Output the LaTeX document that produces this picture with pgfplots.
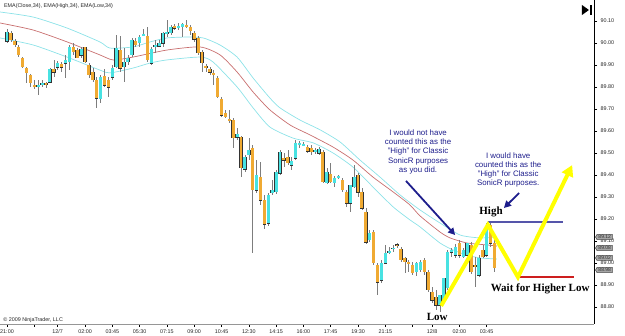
\documentclass[border=0pt]{standalone}
\usepackage{fontspec}
\setmainfont{Liberation Sans}
\newfontfamily\handfont{Liberation Serif}
\usepackage{pgfplots}
\pgfplotsset{compat=1.18}
\usepackage{pgfplotstable}
\usetikzlibrary{arrows.meta,shapes.symbols}
\definecolor{upc}{RGB}{72,226,226}
\definecolor{dnc}{RGB}{240,170,50}
\definecolor{wickc}{RGB}{125,125,125}
\definecolor{emac}{RGB}{140,226,232}
\definecolor{emar}{RGB}{200,110,110}
\definecolor{navy}{RGB}{30,30,140}
\definecolor{hline}{RGB}{85,85,170}
\definecolor{rline}{RGB}{205,30,30}
\definecolor{yel}{RGB}{255,255,0}
\definecolor{axgray}{RGB}{150,150,150}

\pgfplotstableread{
i o h l c
0 90.009 90.064 90.000 90.050
1 90.046 90.055 90.005 90.014
2 90.009 90.018 89.982 89.991
3 89.982 89.991 89.936 89.946
4 89.932 89.936 89.886 89.891
5 89.886 89.891 89.818 89.864
6 89.855 89.859 89.800 89.818
7 89.809 89.832 89.791 89.800
8 89.805 89.832 89.764 89.809
9 89.814 89.832 89.800 89.818
10 89.818 89.823 89.795 89.809
11 89.823 89.886 89.818 89.882
12 89.882 89.923 89.845 89.868
13 89.891 89.918 89.877 89.909
14 89.905 89.914 89.868 89.891
15 89.909 89.946 89.841 89.923
16 89.914 89.991 89.877 89.982
17 89.982 90.000 89.946 89.959
18 89.968 89.977 89.932 89.936
19 89.946 89.982 89.932 89.973
20 89.982 89.982 89.909 89.914
21 89.900 89.909 89.841 89.855
22 89.868 89.886 89.823 89.832
23 89.832 89.845 89.705 89.750
24 89.745 89.855 89.727 89.845
25 89.850 89.882 89.800 89.809
26 89.832 89.845 89.755 89.800
27 89.845 89.900 89.832 89.886
28 89.891 90.036 89.886 89.977
29 89.968 90.036 89.868 89.886
30 89.891 89.977 89.823 89.914
31 89.914 89.946 89.900 89.932
32 89.946 90.023 89.936 90.014
33 90.009 90.023 89.982 89.991
34 90.000 90.036 89.982 90.027
35 90.036 90.064 90.032 90.041
36 90.032 90.073 89.914 89.923
37 89.909 89.982 89.900 89.973
38 89.982 90.014 89.955 89.991
39 89.986 90.014 89.982 90.000
40 90.000 90.050 89.982 90.046
41 90.046 90.105 90.027 90.050
42 90.046 90.082 90.036 90.073
43 90.077 90.086 90.059 90.068
44 90.073 90.091 90.059 90.077
45 90.073 90.091 90.027 90.086
46 90.082 90.105 90.068 90.077
47 90.073 90.082 90.036 90.055
48 90.046 90.055 90.005 90.018
49 90.023 90.032 89.946 89.955
50 89.959 89.968 89.868 89.909
51 89.895 89.905 89.868 89.891
52 89.882 89.891 89.855 89.868
53 89.864 89.877 89.809 89.855
54 89.841 89.850 89.750 89.755
55 89.745 89.755 89.664 89.673
56 89.682 89.695 89.659 89.664
57 89.655 89.695 89.636 89.645
58 89.650 89.659 89.523 89.568
59 89.573 89.614 89.559 89.586
60 89.573 89.577 89.391 89.432
61 89.427 89.491 89.414 89.482
62 89.491 89.568 89.468 89.514
63 89.523 89.536 89.045 89.332
64 89.332 89.468 89.318 89.400
65 89.391 89.459 89.264 89.286
66 89.286 89.309 89.155 89.177
67 89.182 89.318 89.168 89.309
68 89.318 89.377 89.309 89.332
69 89.323 89.423 89.314 89.414
70 89.409 89.514 89.400 89.505
71 89.477 89.500 89.436 89.468
72 89.482 89.514 89.445 89.455
73 89.445 89.482 89.423 89.464
74 89.477 89.559 89.468 89.545
75 89.541 89.555 89.523 89.545
76 89.536 89.550 89.532 89.541
77 89.527 89.536 89.500 89.509
78 89.523 89.536 89.491 89.505
79 89.509 89.523 89.495 89.514
80 89.500 89.527 89.491 89.518
81 89.505 89.514 89.364 89.368
82 89.364 89.432 89.359 89.414
83 89.405 89.455 89.364 89.368
84 89.364 89.395 89.345 89.386
85 89.391 89.400 89.382 89.395
86 89.377 89.386 89.323 89.332
87 89.323 89.332 89.255 89.273
88 89.273 89.355 89.232 89.355
89 89.345 89.445 89.341 89.391
90 89.400 89.409 89.300 89.323
91 89.323 89.341 89.241 89.250
92 89.232 89.250 89.086 89.095
93 89.105 89.150 89.095 89.136
94 89.141 89.150 88.991 89.000
95 88.991 89.000 88.855 88.914
96 88.923 89.014 88.909 89.000
97 89.000 89.082 88.995 89.045
98 89.050 89.073 89.041 89.055
99 89.064 89.082 89.050 89.068
100 89.082 89.091 89.068 89.077
101 89.064 89.073 89.005 89.014
102 89.023 89.027 88.955 89.005
103 89.005 89.014 88.959 89.000
104 88.991 89.005 88.946 88.955
105 88.959 89.005 88.941 89.000
106 88.968 89.014 88.959 89.005
107 89.014 89.023 88.946 88.959
108 88.959 88.968 88.868 88.877
109 88.868 88.891 88.818 88.832
110 88.845 88.877 88.786 88.809
111 88.809 88.855 88.777 88.855
112 88.832 88.932 88.818 88.932
113 88.886 89.059 88.877 89.050
114 89.050 89.068 89.027 89.059
115 89.036 89.086 89.023 89.073
116 89.091 89.105 89.023 89.036
117 89.027 89.068 89.023 89.059
118 89.036 89.091 89.032 89.091
119 89.082 89.095 88.950 88.959
120 88.991 89.027 88.891 88.986
121 88.946 89.036 88.936 89.023
122 89.059 89.082 89.023 89.027
123 89.036 89.182 89.027 89.159
124 89.173 89.186 89.073 89.091
125 89.091 89.105 88.959 88.977
}\candles

\pgfplotstableread{
x y
-1.8 90.141
6.7 90.118
15.4 90.068
23.8 90.005
26.4 89.977
32.3 89.982
36.7 90.005
41 90.023
46.2 90.027
50.3 90.023
54.6 89.991
59 89.936
63.1 89.841
67.4 89.750
70 89.705
75.1 89.650
80.3 89.605
85.4 89.550
90.5 89.468
95.6 89.391
100.8 89.309
105.9 89.241
111 89.182
116.2 89.127
121.3 89.114
125.6 89.118
}\emahigh

\pgfplotstableread{
x y
-1.8 90.091
6.7 90.059
15.4 90.005
23.8 89.946
27.2 89.923
32.3 89.936
41 89.968
49.5 89.982
54.6 89.946
59 89.868
63.1 89.777
67.4 89.696
72.6 89.627
77.7 89.582
83.6 89.527
88.7 89.468
93.8 89.391
99 89.323
103.3 89.264
105.9 89.214
111 89.141
113.6 89.114
117.9 89.091
123.1 89.082
125.6 89.077
}\emaclose

\pgfplotstableread{
x y
-1.8 90.023
6.7 89.991
15.4 89.936
23.8 89.877
26.4 89.864
32.3 89.886
36.7 89.909
41 89.923
49.5 89.936
52.8 89.914
59 89.800
63.1 89.705
67.4 89.618
73.3 89.568
78.5 89.546
83.6 89.500
88.7 89.436
93.8 89.346
99 89.255
103.3 89.196
105.9 89.164
111 89.091
114.4 89.059
117.9 89.036
121.3 89.023
125.6 89.018
}\emalow

\begin{document}
\begin{tikzpicture}
\begin{axis}[
  at={(0pt,0pt)}, anchor=south west,
  width=594pt, height=324pt, scale only axis,
  xmin=-1.795, xmax=150.5, ymin=88.7227, ymax=90.1955,
  axis x line*=bottom, axis y line*=right,
  x axis line style={draw=axgray, line width=0.8pt},
  y axis line style={draw=black, line width=0.6pt},
  xtick={0,7,13,20,27,34,41,48,55,62,69,76,83,90,97,104,109,116,123},
  xticklabels={21:00,,12/7,02:00,03:45,05:30,07:15,09:00,10:45,12:30,14:15,16:00,17:45,19:30,21:15,,12/8,02:00,03:45},
  ytick={88.8,88.9,89.0,89.1,89.2,89.3,89.4,89.5,89.6,89.7,89.8,89.9,90.0,90.1},
  tick align=outside, major tick length=3pt,
  tick style={black, line width=0.5pt},
  ticklabel style={font=\fontsize{5.4}{6}\selectfont, text=black!85},
  xticklabel style={yshift=1pt},
  yticklabel style={/pgf/number format/.cd, fixed, fixed zerofill, precision=2},
  /pgf/number format/assume math mode=true,
  clip=false,
  candle/.style={draw=none, no markers, forget plot, error bars/.cd, y dir=both, y explicit, error mark=none},
]
% EMA lines
\addplot[emac, line width=0.7pt, smooth, tension=0.4, no markers] table {\emahigh};
\addplot[emar, line width=0.7pt, smooth, tension=0.4, no markers] table {\emaclose};
\addplot[emac, line width=0.7pt, smooth, tension=0.4, no markers] table {\emalow};
% wicks
\addplot[candle, error bar style={draw=wickc, line width=0.6pt}]
  table[x=i, y expr=(\thisrow{h}+\thisrow{l})/2, y error expr=(\thisrow{h}-\thisrow{l})/2] {\candles};
% body outlines
\addplot[candle, error bar style={draw=black!80, line width=3.5pt}]
  table[x=i, y expr=(\thisrow{o}+\thisrow{c})/2, y error expr=abs(\thisrow{c}-\thisrow{o})/2+0.0016] {\candles};
% up bodies
\addplot[candle, error bar style={draw=upc, line width=2.9pt}]
  table[x=i, y expr={\thisrow{c}>\thisrow{o} ? (\thisrow{o}+\thisrow{c})/2 : nan}, y error expr=abs(\thisrow{c}-\thisrow{o})/2] {\candles};
% down bodies
\addplot[candle, error bar style={draw=dnc, line width=2.9pt}]
  table[x=i, y expr={\thisrow{c}<\thisrow{o} ? (\thisrow{o}+\thisrow{c})/2 : nan}, y error expr=abs(\thisrow{c}-\thisrow{o})/2] {\candles};

% annotations
\draw[hline, line width=1.6pt] (axis cs:123.3,89.186) -- (axis cs:142.6,89.186);
\draw[rline, line width=1.2pt] (axis cs:130.8,88.936) -- (axis cs:145.4,88.936);
\draw[yel, line width=4pt, line join=miter, -{Triangle[length=11pt,width=12pt]}]
  (axis cs:111.3,88.805) -- (axis cs:123.3,89.173) -- (axis cs:131,88.936) -- (axis cs:144.9,89.445);
\draw[navy, line width=1.8pt, -{Triangle[length=7pt,width=7pt]}] (axis cs:102.3,89.373) -- (axis cs:114.9,89.127);
\draw[navy, line width=1.8pt, -{Triangle[length=7pt,width=7pt]}] (axis cs:131.3,89.318) -- (axis cs:127.4,89.250);

\node[navy, align=center, font=\fontsize{7.9}{9.2}\selectfont, inner sep=0pt] at (axis cs:105.4,89.505)
  {I would not have\\counted this as the\\"High" for Classic\\SonicR purposes\\as you did.};
\node[navy, align=center, font=\fontsize{7.9}{9.2}\selectfont, inner sep=0pt] at (axis cs:128.5,89.423)
  {I would have\\counted this as the\\"High" for Classic\\SonicR purposes.};
\node[font=\handfont\bfseries\fontsize{11}{12}\selectfont, inner sep=0pt] at (axis cs:124.1,89.232) {High};
\node[font=\handfont\bfseries\fontsize{11}{12}\selectfont, inner sep=0pt] at (axis cs:110.3,88.755) {Low};
\node[font=\handfont\bfseries\fontsize{11}{12}\selectfont, inner sep=0pt] at (axis cs:136.7,88.882) {Wait for Higher Low};

\node[anchor=west, font=\fontsize{5.4}{6}\selectfont, inner sep=0pt, text=black!85] at (axis cs:-0.8,90.168)
  {EMA(Close,34), EMA(High,34), EMA(Low,34)};
\node[anchor=west, font=\fontsize{5.4}{6}\selectfont, inner sep=0pt, text=black!85] at (axis cs:-1.0,88.741)
  {\textcopyright\ 2009 NinjaTrader, LLC};

% end-of-chart icon
\fill[black] (axis cs:147.4,90.173) -- (axis cs:147.4,90.127) -- (axis cs:149.2,90.150) -- cycle;
\fill[black] (axis cs:149.45,90.173) rectangle (axis cs:150.0,90.127);

\coordinate (m1) at (axis cs:150.5,89.118);
\coordinate (m2) at (axis cs:150.5,89.068);
\coordinate (m3) at (axis cs:150.5,89.023);
\coordinate (m4) at (axis cs:150.5,88.968);
\end{axis}
\foreach \m/\t in {m1/89.12, m2/89.08, m3/89.02, m4/88.98}{
  \node[signal, signal to=west, signal pointer angle=120, draw=black!70, fill=black!35, text=black!80,
    font=\fontsize{5}{5.5}\selectfont, inner xsep=1.5pt, inner ysep=0.8pt, anchor=west, line width=0.5pt]
    at ([xshift=1.2pt]\m) {\t};
}
\pgfresetboundingbox
\useasboundingbox (0pt,-12pt) rectangle (625pt,324pt);
\end{tikzpicture}
\end{document}
